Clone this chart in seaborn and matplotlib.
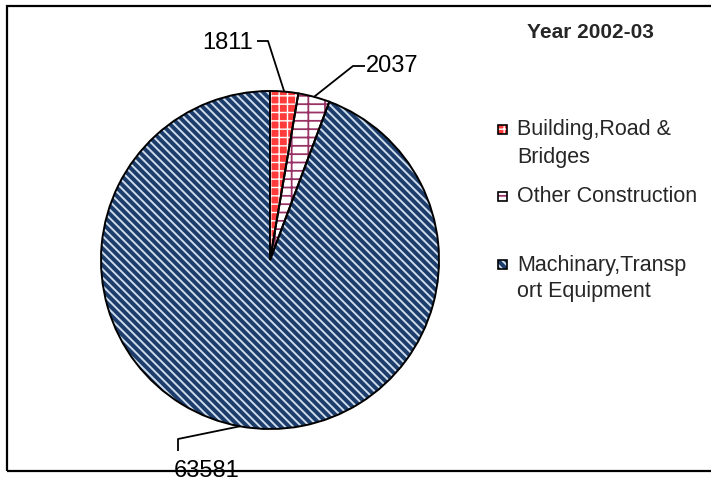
import matplotlib
matplotlib.use("Agg")
import matplotlib.pyplot as plt
import seaborn as sns
import numpy as np
from matplotlib.patches import Rectangle

# ---- data ----
categories = ["Building,Road & Bridges", "Other Construction", "Machinary,Transport Equipment"]
legend_labels = ["Building,Road &\nBridges", "Other Construction", "Machinary,Transp\nort Equipment"]
values = [1811, 2037, 63581]
value_labels = ["1811", "2037", "63581"]
title = "Year 2002-03"

# ---- style ----
sns.set_theme(style="white")
plt.rcParams['font.family'] = ['Liberation Sans', 'DejaVu Sans']
plt.rcParams['hatch.linewidth'] = 1.6

face_colors = ['#ff3b3b', '#ffffff', '#1c3d6c']
hatch_colors = ['#ffffff', '#993366', '#cfdcec']
hatches = ['++', '--|', '\\\\\\\\']
hatch_lws = [1.0, 1.3, 1.4]

W, H = 711, 485
fig = plt.figure(figsize=(W / 100, H / 100), dpi=100)
ax = fig.add_axes([0, 0, 1, 1])

def Y(y):
    return H - y

center = (270, Y(261))
radius = 169

wedges, _ = ax.pie(values, colors=face_colors, startangle=90, counterclock=False,
                   center=center, radius=radius, wedgeprops=dict(linewidth=0))
for w, hc, h, hl in zip(wedges, hatch_colors, hatches, hatch_lws):
    w.set_edgecolor(hc)
    w.set_hatch(h)
    if hasattr(w, 'set_hatch_linewidth'):
        w.set_hatch_linewidth(hl)
outl, _ = ax.pie(values, colors=['none'] * 3, startangle=90, counterclock=False,
                 center=center, radius=radius,
                 wedgeprops=dict(edgecolor='black', linewidth=1.4, fill=False))

ax.set_xlim(0, W)
ax.set_ylim(0, H)
ax.set_aspect('auto')
ax.axis('off')

fs_val = 17
fs_leg = 15.5
# leader lines and value labels
elbows = [[(257, 42), (268, 42)], [(365, 67), (353, 67)], [(178, 452), (178, 440)]]
label_pos = [(253, 43, 'right'), (366, 66, 'left'), (207, 471, 'center')]
for w, el, (lx, ly, ha), txt in zip(wedges, elbows, label_pos, value_labels):
    mid = np.deg2rad((w.theta1 + w.theta2) / 2)
    px = center[0] + radius * np.cos(mid)
    py = center[1] + radius * np.sin(mid)
    xs = [el[0][0], el[1][0], px]
    ys = [Y(el[0][1]), Y(el[1][1]), py]
    ax.plot(xs, ys, color='black', lw=1.3, solid_capstyle='butt')
    ax.text(lx, Y(ly), txt, ha=ha, va='center', fontsize=fs_val, color='black')

# title
ax.text(590, Y(33), title, ha='center', va='center', fontsize=15, fontweight='bold')

# legend
entry_y = [130, 197, 265]
line_gap = 27
for lab, ey, fc, hc, h, hl in zip(legend_labels, entry_y, face_colors, hatch_colors, hatches, hatch_lws):
    sq = 9
    r1 = Rectangle((498, Y(ey) - sq / 2), sq, sq, facecolor=fc, edgecolor=hc, lw=0, hatch=h)
    if hasattr(r1, 'set_hatch_linewidth'):
        r1.set_hatch_linewidth(hl)
    r2 = Rectangle((498, Y(ey) - sq / 2), sq, sq, facecolor='none', edgecolor='black', lw=1.2)
    ax.add_patch(r1)
    ax.add_patch(r2)
    for k, line in enumerate(lab.split('\n')):
        ax.text(517, Y(ey + k * line_gap), line, ha='left', va='center', fontsize=fs_leg)

# chart border
ax.add_patch(Rectangle((7, Y(472)), 730, 465, facecolor='none', edgecolor='black',
                       lw=1.6, clip_on=False))

fig.savefig('out.png', dpi=100)
